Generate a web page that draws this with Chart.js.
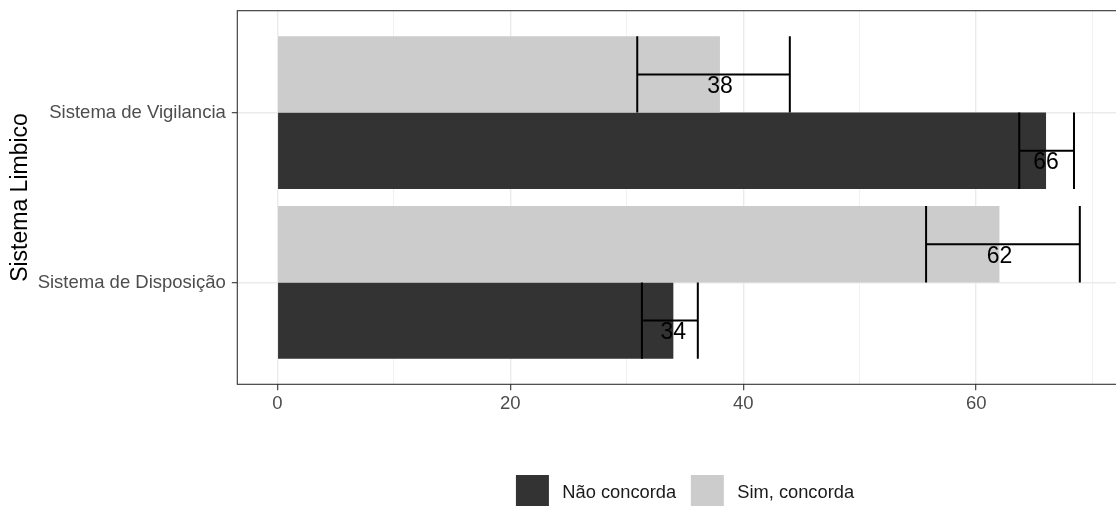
<!DOCTYPE html>
<html>
<head>
<meta charset="utf-8">
<script src="https://cdn.jsdelivr.net/npm/chart.js@4.4.1/dist/chart.umd.min.js"></script>
<style>
    html, body { margin: 0; padding: 0; background: #fff; overflow: hidden; }
    #wrap { width: 1116px; height: 506px; overflow: hidden; }
</style>
</head>
<body>
<div id="wrap"><canvas id="chart" width="1124" height="506"></canvas></div>
<script>
const categories = ['Sistema de Vigilancia', 'Sistema de Disposição'];
const categoryPos = [2, 1];

const simValues = [38, 62];
const simLow = [30.9, 55.7];
const simHigh = [44.0, 68.9];

const naoValues = [66, 34];
const naoLow = [63.7, 31.3];
const naoHigh = [68.4, 36.1];

const xTicks = [0, 10, 20, 30, 40, 50, 60, 70];
const xLabelStep = 20;

const FONT = "'Liberation Sans', Arial, sans-serif";

const toPoints = (vals) => categoryPos.map((p, i) => ({ x: vals[i], y: p }));

// error bars + value labels, drawn on top of the bars
const errorBars = {
    id: 'errorBars',
    afterDatasetsDraw(chart) {
        const { ctx } = chart;
        const xs = chart.scales.x;
        ctx.save();
        chart.data.datasets.forEach((ds, di) => {
            const meta = chart.getDatasetMeta(di);
            meta.data.forEach((bar, i) => {
                const y = bar.y;
                const h = bar.height / 2;
                const x0 = xs.getPixelForValue(ds.low[i]);
                const x1 = xs.getPixelForValue(ds.high[i]);
                ctx.strokeStyle = '#000';
                ctx.lineWidth = 2;
                ctx.beginPath();
                ctx.moveTo(x0, y); ctx.lineTo(x1, y);
                ctx.moveTo(x0, y - h); ctx.lineTo(x0, y + h);
                ctx.moveTo(x1, y - h); ctx.lineTo(x1, y + h);
                ctx.stroke();
            });
        });
        chart.data.datasets.forEach((ds, di) => {
            const meta = chart.getDatasetMeta(di);
            meta.data.forEach((bar, i) => {
                const v = ds.data[i].x;
                ctx.fillStyle = '#000';
                ctx.font = `23px ${FONT}`;
                ctx.textAlign = 'center';
                ctx.textBaseline = 'middle';
                ctx.fillText(String(v), xs.getPixelForValue(v), bar.y + 12);
            });
        });
        ctx.restore();
    }
};

// panel frame and the bottom legend
const frameAndLegend = {
    id: 'frameAndLegend',
    afterDraw(chart) {
        const { ctx, chartArea: a } = chart;
        ctx.save();
        ctx.strokeStyle = '#333';
        ctx.lineWidth = 1.1;
        ctx.strokeRect(a.left, a.top, a.right - a.left, a.bottom - a.top);

        const items = chart.data.datasets
            .map(ds => ({ text: ds.label, color: ds.backgroundColor, order: ds.legendOrder }))
            .sort((p, q) => p.order - q.order);
        ctx.font = `18.3px ${FONT}`;
        const box = 33, gap = 13.4, spacing = 14.7;
        const widths = items.map(it => box + gap + ctx.measureText(it.text).width);
        const total = widths.reduce((s, w) => s + w, 0) + spacing * (items.length - 1);
        let x = 685 - total / 2;
        const top = 475;
        items.forEach((it, i) => {
            ctx.fillStyle = it.color;
            ctx.fillRect(x, top, box, box);
            ctx.fillStyle = '#1a1a1a';
            ctx.textAlign = 'left';
            ctx.textBaseline = 'middle';
            ctx.fillText(it.text, x + box + gap, top + box / 2 + 1);
            x += widths[i] + spacing;
        });
        ctx.restore();
    }
};

new Chart(document.getElementById('chart').getContext('2d'), {
    type: 'bar',
    data: {
        datasets: [
            {
                label: 'Sim, concorda',
                data: toPoints(simValues),
                low: simLow,
                high: simHigh,
                legendOrder: 1,
                backgroundColor: '#cccccc',
                borderWidth: 0
            },
            {
                label: 'Não concorda',
                data: toPoints(naoValues),
                low: naoLow,
                high: naoHigh,
                legendOrder: 0,
                backgroundColor: '#333333',
                borderWidth: 0
            }
        ]
    },
    options: {
        indexAxis: 'y',
        responsive: false,
        animation: false,
        categoryPercentage: 0.9,
        barPercentage: 1,
        layout: { padding: { top: 10.7, right: 4, left: 0, bottom: 0 } },
        plugins: {
            legend: { display: false },
            tooltip: { enabled: false }
        },
        scales: {
            x: {
                type: 'linear',
                bounds: 'data',
                min: -3.44,
                max: 72.35,
                afterBuildTicks: (s) => { s.ticks = xTicks.map(v => ({ value: v })); },
                afterFit: (s) => { s.height = 121.7; s.paddingLeft = 0; s.paddingRight = 0; },
                border: { display: false },
                grid: {
                    color: '#ebebeb',
                    lineWidth: (c) => (c.tick && c.tick.value % xLabelStep === 0 ? 1.4 : 0.7),
                    tickLength: 6,
                    tickColor: (c) => (c.tick && c.tick.value % xLabelStep === 0 ? '#333' : 'rgba(0,0,0,0)'),
                    tickWidth: 1.1
                },
                ticks: {
                    autoSkip: false,
                    maxRotation: 0,
                    padding: 3,
                    color: '#4d4d4d',
                    font: { family: FONT, size: 18.5 },
                    callback: (v) => (v % xLabelStep === 0 ? String(v) : '')
                }
            },
            y: {
                type: 'linear',
                bounds: 'data',
                offset: false,
                min: 0.4,
                max: 2.6,
                afterBuildTicks: (s) => { s.ticks = categoryPos.map(v => ({ value: v })); },
                afterFit: (s) => { s.width = 237.3; s.paddingTop = 0; s.paddingBottom = 0; },
                border: { display: false },
                grid: {
                    offset: false,
                    color: '#ebebeb',
                    lineWidth: 1.4,
                    tickLength: 5.5,
                    tickColor: '#333',
                    tickWidth: 1.1
                },
                ticks: {
                    autoSkip: false,
                    padding: 6,
                    color: '#4d4d4d',
                    font: { family: FONT, size: 18.5 },
                    callback: (v) => categories[categoryPos.indexOf(v)]
                },
                title: {
                    display: true,
                    text: 'Sistema Limbico',
                    color: '#000',
                    font: { family: FONT, size: 23 },
                    padding: { top: 7, bottom: 0 }
                }
            }
        }
    },
    plugins: [errorBars, frameAndLegend]
});
</script>
</body>
</html>
